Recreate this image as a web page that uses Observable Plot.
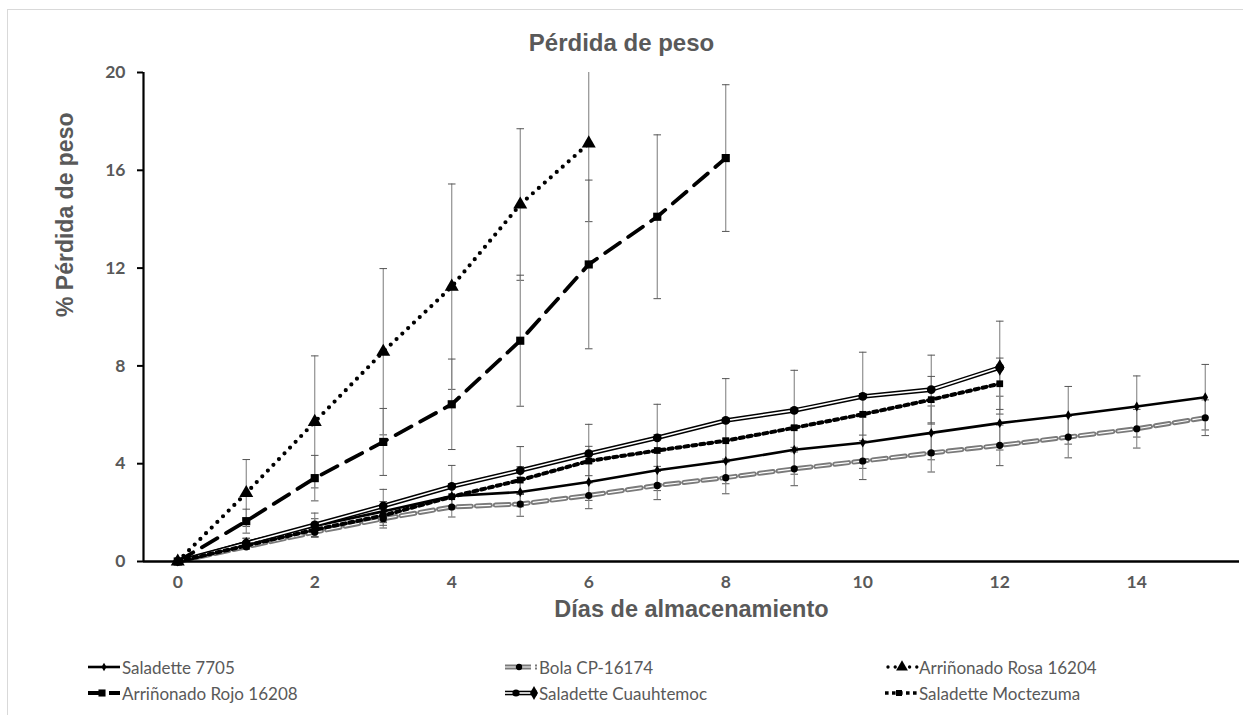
<!DOCTYPE html>
<html>
<head>
<meta charset="utf-8">
<script src="https://cdn.jsdelivr.net/npm/d3@7"></script>
<script src="https://cdn.jsdelivr.net/npm/@observablehq/plot@0.6"></script>
<style>
  body { margin: 0; background: #fff; }
  #wrap { position: relative; width: 1243px; height: 715px; overflow: hidden; background: #fff; }
  #frame { position: absolute; left: 7px; top: 9px; width: 1240px; height: 720px; border: 1px solid #d9d9d9; box-sizing: border-box; }
  #title { position: absolute; left: 0; top: 29px; width: 1243px; text-align: center; font-family: "Liberation Sans", Arial, sans-serif; font-weight: bold; font-size: 24px; color: #595959; }
  #chart { position: absolute; left: 0; top: 60px; }
  #chart svg text { fill: #595959; }
  .leg { position: absolute; display: flex; align-items: center; height: 18px; font-family: Lato, "Open Sans", sans-serif; font-size: 17px; color: #595959; white-space: nowrap; }
  .leg svg { display: block; }
</style>
</head>
<body>
<div id="wrap">
  <div id="frame"></div>
  <div id="title">Pérdida de peso</div>
  <div id="chart"></div>
  <div id="legend"></div>
</div>
<script>
// ---------- data ----------
const days = [0, 1, 2, 3, 4, 5, 6, 7, 8, 9, 10, 11, 12, 13, 14, 15];
const xTicks = [0, 2, 4, 6, 8, 10, 12, 14];
const yTicks = [0, 4, 8, 12, 16, 20];
const seriesNames = ["Saladette 7705", "Bola CP-16174", "Arriñonado Rosa 16204", "Arriñonado Rojo 16208", "Saladette Cuauhtemoc", "Saladette Moctezuma"];

const saladette7705 = [0, 0.8, 1.45, 2.05, 2.68, 2.84, 3.25, 3.73, 4.11, 4.57, 4.86, 5.26, 5.66, 5.98, 6.34, 6.72];
const saladette7705Err = [0, 0.15, 0.3, 0.4, 0.5, 0.6, 0.75, 0.83, 0.93, 1.0, 1.05, 1.1, 1.1, 1.18, 1.25, 1.34];
const bola = [0, 0.6, 1.2, 1.75, 2.23, 2.35, 2.7, 3.11, 3.43, 3.79, 4.11, 4.44, 4.75, 5.09, 5.43, 5.88];
const bolaErr = [0, 0.1, 0.2, 0.38, 0.41, 0.5, 0.54, 0.58, 0.66, 0.69, 0.76, 0.78, 0.83, 0.85, 0.79, 0.73];
const rosa = [0, 2.8, 5.71, 8.58, 11.24, 14.6, 17.1];
const rosaErr = [0, 1.37, 2.7, 3.4, 4.2, 3.1, 3.2];
const rojo = [0, 1.65, 3.41, 4.89, 6.43, 9.03, 12.15, 14.1, 16.5];
const rojoErr = [0, 0.49, 0.93, 1.37, 1.85, 2.68, 3.45, 3.35, 3.0];
const cuauhtemoc = [0, 0.75, 1.5, 2.27, 3.07, 3.72, 4.41, 5.06, 5.77, 6.18, 6.75, 7.03, 7.93];
const cuauhtemocErr = [0, 0.2, 0.48, 0.68, 0.86, 0.98, 1.2, 1.37, 1.71, 1.64, 1.81, 1.41, 1.9];
const moctezuma = [0, 0.65, 1.3, 1.88, 2.65, 3.33, 4.11, 4.54, 4.94, 5.47, 6.02, 6.62, 7.27];
const moctezumaErr = [0, 0.15, 0.3, 0.4, 0.5, 0.55, 0.6, 0.65, 0.75, 0.8, 0.85, 0.95, 1.05];

// ---------- build ----------
const rows = (vals, errs) => vals.map((v, i) => ({day: days[i], v, e: errs[i]}));
const S = [
  rows(saladette7705, saladette7705Err),
  rows(bola, bolaErr),
  rows(rosa, rosaErr),
  rows(rojo, rojoErr),
  rows(cuauhtemoc, cuauhtemocErr),
  rows(moctezuma, moctezumaErr)
];

const cap = 0.055;
const errMarks = S.flatMap(d => {
  const f = d.filter(r => r.e > 0);
  return [
    Plot.ruleX(f, {x: "day", y1: r => r.v - r.e, y2: r => r.v + r.e, stroke: "#858585", strokeWidth: 1.1, clip: true}),
    Plot.link(f, {x1: r => r.day - cap, x2: r => r.day + cap, y1: r => r.v + r.e, y2: r => r.v + r.e, stroke: "#555", strokeWidth: 1, clip: true}),
    Plot.link(f, {x1: r => r.day - cap, x2: r => r.day + cap, y1: r => r.v - r.e, y2: r => r.v - r.e, stroke: "#555", strokeWidth: 1, clip: true})
  ];
});

const L = {x: "day", y: "v"};
const lineMarks = [
  // Saladette 7705: solid
  Plot.line(S[0], {...L, stroke: "#000", strokeWidth: 2.6}),
  // Bola: gray double dashed
  Plot.line(S[1], {...L, stroke: "#7a7a7a", strokeWidth: 5, strokeDasharray: "14,5"}),
  Plot.line(S[1], {...L, stroke: "#fff", strokeWidth: 1.2, strokeDasharray: "14,5"}),
  // Rosa: round dots
  Plot.line(S[2], {...L, stroke: "#000", strokeWidth: 4.2, strokeDasharray: "0,8", strokeLinecap: "round"}),
  // Rojo: long dash
  Plot.line(S[3], {...L, stroke: "#000", strokeWidth: 3.8, strokeDasharray: "18,10"}),
  // Cuauhtemoc: double line
  Plot.line(S[4], {...L, stroke: "#000", strokeWidth: 4.6}),
  Plot.line(S[4], {...L, stroke: "#fff", strokeWidth: 1.6}),
  // Moctezuma: square dots
  Plot.line(S[5], {...L, stroke: "#000", strokeWidth: 4, strokeDasharray: "4,4"})
];

const dotMarks = [
  Plot.dot(S[0], {...L, symbol: "diamond", r: 3, fill: "#000"}),
  Plot.dot(S[1], {...L, symbol: "circle", r: 3.6, fill: "#000"}),
  Plot.dot(S[2], {...L, symbol: "triangle", r: 5.2, fill: "#000"}),
  Plot.dot(S[3], {...L, symbol: "square", r: 4.6, fill: "#000"}),
  Plot.dot(S[4], {...L, symbol: "circle", r: 4.4, fill: "#000"}),
  Plot.dot(S[4].slice(-1), {...L, symbol: "diamond", r: 5, fill: "#000"}),
  Plot.dot(S[5], {...L, symbol: "square", r: 3.8, fill: "#000"})
];

const chart = Plot.plot({
  width: 1243,
  height: 570,
  marginLeft: 143,
  marginRight: 4,
  marginTop: 12,
  marginBottom: 69,
  x: {domain: [-0.5, 15.5]},
  y: {domain: [0, 20]},
  style: {fontFamily: "Lato, sans-serif", background: "transparent", overflow: "visible"},
  marks: [
    ...errMarks,
    ...lineMarks,
    ...dotMarks,
    Plot.axisY({ticks: yTicks, tickSize: 6, tickPadding: 12, stroke: "#000", strokeWidth: 2, label: null, fontSize: 17.5, fontWeight: "bold", fill: "#595959"}),
    Plot.axisX({ticks: xTicks, tickSize: 0, tickPadding: 14, label: null, fontSize: 17.5, fontWeight: "bold", fill: "#595959"}),
    Plot.ruleX([-0.5], {stroke: "#000", strokeWidth: 2.2}),
    Plot.ruleY([0], {stroke: "#000", strokeWidth: 2.6}),
    Plot.text(["% Pérdida de peso"], {text: d => d, frameAnchor: "left", dx: -78, rotate: -90, fontSize: 23, fontWeight: "bold", fill: "#595959", fontFamily: "Liberation Sans, Arial, sans-serif"}),
    Plot.text(["Días de almacenamiento"], {text: d => d, frameAnchor: "bottom", dy: 55, fontSize: 23.5, fontWeight: "bold", fill: "#595959", fontFamily: "Liberation Sans, Arial, sans-serif"})
  ]
});
document.getElementById("chart").appendChild(chart);

// ---------- legend ----------
const NS = "http://www.w3.org/2000/svg";
function el(tag, attrs, parent) {
  const e = document.createElementNS(NS, tag);
  for (const k in attrs) e.setAttribute(k, attrs[k]);
  parent.appendChild(e);
  return e;
}
function sym(type, r, cx, cy, parent) {
  const p = d3.symbol(type === "circle" ? d3.symbolCircle : type === "square" ? d3.symbolSquare : type === "triangle" ? d3.symbolTriangle : d3.symbolDiamond, Math.PI * r * r)();
  el("path", {d: p, transform: `translate(${cx},${cy})`, fill: "#000"}, parent);
}
const legendSamples = [
  g => { el("line", {x1: 0, y1: 9, x2: 32, y2: 9, stroke: "#000", "stroke-width": 2.6}, g); sym("diamond", 2.6, 16, 9, g); },
  g => { el("line", {x1: 0, y1: 9, x2: 32, y2: 9, stroke: "#7a7a7a", "stroke-width": 5, "stroke-dasharray": "11,4"}, g);
         el("line", {x1: 0, y1: 9, x2: 32, y2: 9, stroke: "#fff", "stroke-width": 1.2, "stroke-dasharray": "11,4"}, g); sym("circle", 3.2, 14, 9, g); },
  g => { el("line", {x1: 3, y1: 9, x2: 32, y2: 9, stroke: "#000", "stroke-width": 3.4, "stroke-dasharray": "0,7.2", "stroke-linecap": "round"}, g); sym("triangle", 4.4, 17, 9, g); },
  g => { el("line", {x1: 0, y1: 9, x2: 32, y2: 9, stroke: "#000", "stroke-width": 3.8, "stroke-dasharray": "12,9"}, g); sym("square", 4, 14, 9, g); },
  g => { el("line", {x1: 0, y1: 9, x2: 32, y2: 9, stroke: "#000", "stroke-width": 4.6}, g);
         el("line", {x1: 0, y1: 9, x2: 32, y2: 9, stroke: "#fff", "stroke-width": 1.6}, g); sym("circle", 3.6, 11, 9, g); sym("diamond", 4.2, 29, 9, g); },
  g => { el("line", {x1: 0, y1: 9, x2: 32, y2: 9, stroke: "#000", "stroke-width": 3.6, "stroke-dasharray": "3.6,3.4"}, g); sym("square", 3.4, 14, 9, g); }
];
const legCols = [88, 505, 885];
const legRows = [667, 693];
const legend = document.getElementById("legend");
seriesNames.forEach((name, i) => {
  const div = document.createElement("div");
  div.className = "leg";
  div.style.left = legCols[i % 3] + "px";
  div.style.top = (legRows[Math.floor(i / 3)] - 9) + "px";
  const svg = document.createElementNS(NS, "svg");
  svg.setAttribute("width", 34);
  svg.setAttribute("height", 18);
  legendSamples[i](svg);
  div.appendChild(svg);
  const span = document.createElement("span");
  span.textContent = name;
  div.appendChild(span);
  legend.appendChild(div);
});
</script>
</body>
</html>
